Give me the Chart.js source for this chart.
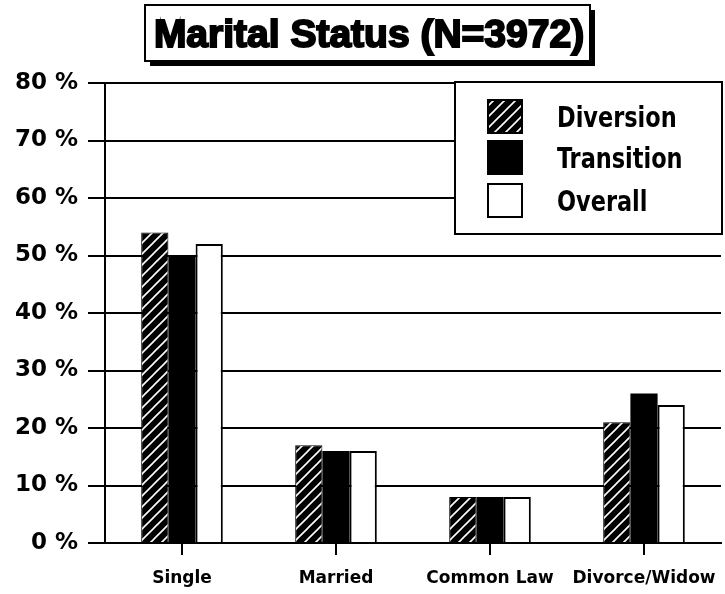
<!DOCTYPE html>
<html lang="en">
<head>
    <meta charset="UTF-8">
    <title>Marital Status (N=3972)</title>
    <script src="https://cdn.jsdelivr.net/npm/chart.js"></script>
    <style>
        body { margin: 0; background: #fff; }
        #wrap { width: 725px; height: 594px; position: relative; }
    </style>
</head>
<body>
    <div id="wrap"><canvas id="maritalChart"></canvas></div>

    <script>
        const categories = ['Single', 'Married', 'Common Law', 'Divorce/Widow'];
        const diversion = [54, 17, 8, 21];
        const transition = [50, 16, 8, 26];
        const overall = [52, 16, 8, 24];
        const yTicks = [0, 10, 20, 30, 40, 50, 60, 70, 80];
        const chartTitle = 'Marital Status (N=3972)';

        // hatch pattern for the Diversion bars
        const tile = document.createElement('canvas');
        tile.width = 11;
        tile.height = 11;
        const tctx = tile.getContext('2d');
        tctx.fillStyle = '#000';
        tctx.fillRect(0, 0, 11, 11);
        tctx.strokeStyle = '#fff';
        tctx.lineWidth = 1.6;
        tctx.beginPath();
        tctx.moveTo(-2, 13); tctx.lineTo(13, -2);
        tctx.moveTo(-2, 2); tctx.lineTo(2, -2);
        tctx.moveTo(9, 13); tctx.lineTo(13, 9);
        tctx.stroke();
        const hatch = tctx.createPattern(tile, 'repeat');

        const titleBox = {
            id: 'titleBox',
            afterDraw(chart) {
                const c = chart.ctx;
                c.save();
                c.fillStyle = '#000';
                c.fillRect(150, 10, 445, 56);
                c.fillStyle = '#fff';
                c.fillRect(145, 5, 445, 56);
                c.strokeStyle = '#000';
                c.lineWidth = 2;
                c.strokeRect(145, 5, 445, 56);
                c.font = 'bold 39px "Liberation Sans", Arial, sans-serif';
                c.textAlign = 'center';
                c.textBaseline = 'middle';
                c.fillStyle = '#000';
                c.lineWidth = 2;
                c.fillText(chartTitle, 369, 36);
                c.strokeText(chartTitle, 369, 36);
                c.restore();
            }
        };

        const boxLegend = {
            id: 'boxLegend',
            afterDatasetsDraw(chart) {
                const c = chart.ctx;
                c.save();
                c.fillStyle = '#fff';
                c.fillRect(455, 82, 267, 152);
                c.strokeStyle = '#000';
                c.lineWidth = 2;
                c.strokeRect(455, 82, 267, 152);
                const rows = [100, 141, 184];
                chart.data.datasets.forEach((ds, i) => {
                    const y = rows[i];
                    c.fillStyle = ds.backgroundColor;
                    c.fillRect(488, y, 34, 33);
                    c.lineWidth = 2;
                    c.strokeStyle = '#000';
                    c.strokeRect(488, y, 34, 33);
                    // narrow, tall lettering
                    c.save();
                    c.translate(557, y + 19);
                    c.scale(0.86, 1);
                    c.font = 'bold 29px "DejaVu Sans Condensed", "DejaVu Sans", sans-serif';
                    c.textBaseline = 'middle';
                    c.fillStyle = '#000';
                    c.fillText(ds.label, 0, 0);
                    c.restore();
                });
                c.restore();
            }
        };

        const ctx = document.getElementById('maritalChart').getContext('2d');
        new Chart(ctx, {
            type: 'bar',
            data: {
                labels: categories,
                datasets: [
                    { label: 'Diversion', data: diversion, backgroundColor: hatch, borderColor: '#000', borderWidth: 1 },
                    { label: 'Transition', data: transition, backgroundColor: '#000', borderColor: '#000', borderWidth: 0 },
                    { label: 'Overall', data: overall, backgroundColor: '#fff', borderColor: '#000', borderWidth: 2 }
                ]
            },
            options: {
                responsive: true,
                maintainAspectRatio: false,
                animation: false,
                layout: { padding: { top: 83, right: 4, left: 0, bottom: 0 } },
                datasets: { bar: { categoryPercentage: 0.53, barPercentage: 1 } },
                plugins: {
                    legend: { display: false },
                    title: { display: false },
                    tooltip: { enabled: false }
                },
                scales: {
                    x: {
                        afterFit(scale) {
                            scale.height = 51;
                            scale.paddingLeft = 0;
                            scale.paddingRight = 0;
                        },
                        grid: {
                            display: true,
                            drawOnChartArea: false,
                            offset: false,
                            tickLength: 12,
                            color: '#000',
                            lineWidth: 2
                        },
                        border: { display: true, color: '#000', width: 2 },
                        ticks: {
                            color: '#000',
                            padding: 13,
                            maxRotation: 0,
                            autoSkip: false,
                            font: { family: '"DejaVu Sans", sans-serif', weight: 'bold', size: 17 }
                        }
                    },
                    y: {
                        min: 0,
                        max: 80,
                        afterFit(scale) { scale.width = 105; },
                        afterBuildTicks(scale) { scale.ticks = yTicks.map(v => ({ value: v })); },
                        grid: { color: '#000', lineWidth: 2, tickLength: 17 },
                        border: { display: true, color: '#000', width: 2 },
                        ticks: {
                            color: '#000',
                            padding: 10,
                            font: { family: '"DejaVu Sans", sans-serif', weight: 'bold', size: 23 },
                            callback: v => v + ' %'
                        }
                    }
                }
            },
            plugins: [titleBox, boxLegend]
        });
    </script>
</body>
</html>
